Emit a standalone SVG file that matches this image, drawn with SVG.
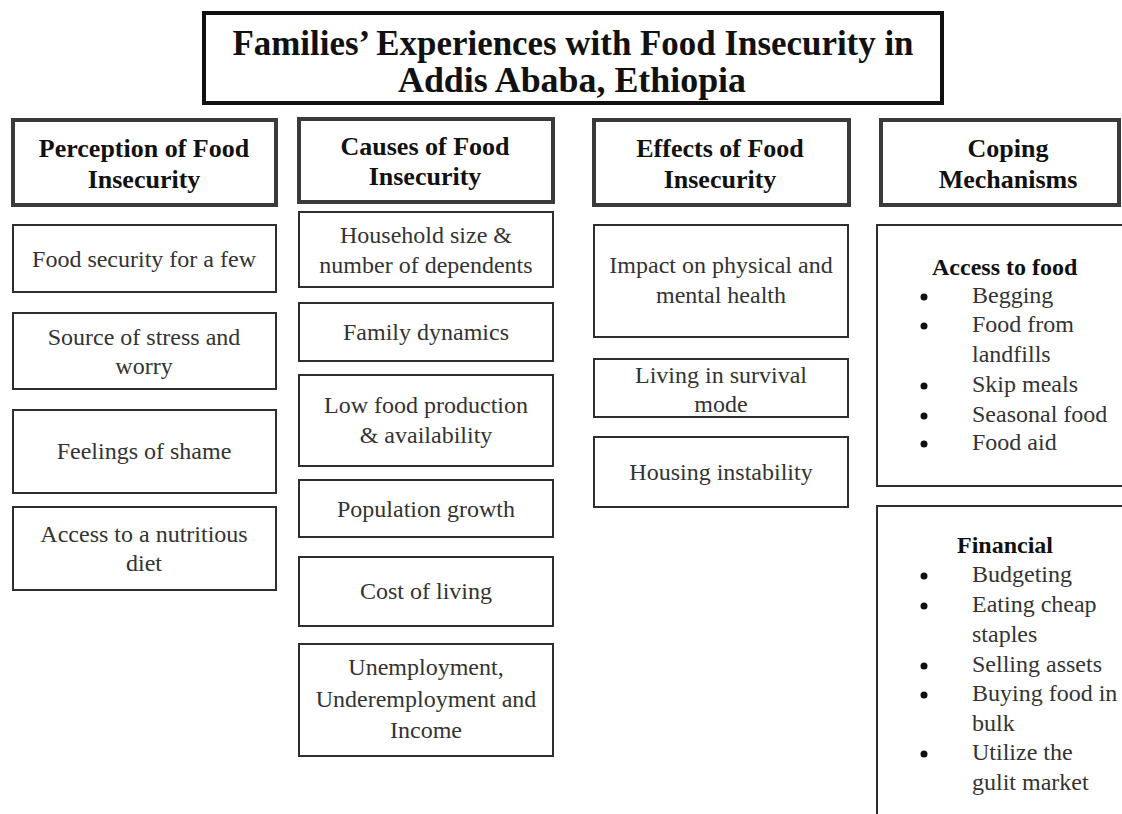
<svg xmlns="http://www.w3.org/2000/svg" width="1122" height="814" viewBox="0 0 1122 814">
<style>
.title{font-family:"Liberation Serif",serif;font-weight:bold;font-size:36px;fill:#111;text-anchor:middle}
.hd{fill:#fff;stroke:#3a3a3a;stroke-width:4}
.bx{fill:#fff;stroke:#2e2e2e;stroke-width:2}
.ht{font-family:"Liberation Serif",serif;font-weight:bold;font-size:26px;fill:#111;text-anchor:middle}
.t{font-family:"Liberation Serif",serif;font-size:24px;fill:#333;text-anchor:middle}
.st{font-family:"Liberation Serif",serif;font-weight:bold;font-size:24px;fill:#111}
.li{font-family:"Liberation Serif",serif;font-size:24px;fill:#333}
.bu{fill:#111}
</style>
<rect width="1122" height="814" fill="#fff"/>
<g id="title">
<rect x="204" y="13" width="738" height="90" fill="#fff" stroke="#111" stroke-width="4"/>
<text class="title" x="573" y="55" textLength="681" lengthAdjust="spacingAndGlyphs">Families’ Experiences with Food Insecurity in</text>
<text class="title" x="572" y="92" textLength="348" lengthAdjust="spacingAndGlyphs">Addis Ababa, Ethiopia</text>
</g>
<g id="h-perception"><rect class="hd" x="13" y="120" width="263" height="85"/>
<text class="ht" x="144" y="157">Perception of Food</text><text class="ht" x="144" y="188">Insecurity</text></g>
<g id="h-causes"><rect class="hd" x="299" y="119" width="254" height="83"/>
<text class="ht" x="425" y="155">Causes of Food</text><text class="ht" x="425" y="185">Insecurity</text></g>
<g id="h-effects"><rect class="hd" x="594" y="120" width="255" height="85"/>
<text class="ht" x="720" y="157">Effects of Food</text><text class="ht" x="720" y="188">Insecurity</text></g>
<g id="h-coping"><rect class="hd" x="881" y="120" width="238" height="85"/>
<text class="ht" x="1008" y="157">Coping</text><text class="ht" x="1008" y="188">Mechanisms</text></g>

<g id="p1"><rect class="bx" x="13" y="225" width="263" height="67"/><text class="t" x="144" y="267">Food security for a few</text></g>
<g id="p2"><rect class="bx" x="13" y="313" width="263" height="76"/><text class="t" x="144" y="345">Source of stress and</text><text class="t" x="144" y="374">worry</text></g>
<g id="p3"><rect class="bx" x="13" y="410" width="263" height="83"/><text class="t" x="144" y="459">Feelings of shame</text></g>
<g id="p4"><rect class="bx" x="13" y="507" width="263" height="83"/><text class="t" x="144" y="542">Access to a nutritious</text><text class="t" x="144" y="571">diet</text></g>

<g id="c1"><rect class="bx" x="299" y="212" width="254" height="75"/><text class="t" x="426" y="243">Household size &amp;</text><text class="t" x="426" y="273">number of dependents</text></g>
<g id="c2"><rect class="bx" x="299" y="303" width="254" height="58"/><text class="t" x="426" y="340">Family dynamics</text></g>
<g id="c3"><rect class="bx" x="299" y="375" width="254" height="91"/><text class="t" x="426" y="413">Low food production</text><text class="t" x="426" y="443">&amp; availability</text></g>
<g id="c4"><rect class="bx" x="299" y="480" width="254" height="57"/><text class="t" x="426" y="517">Population growth</text></g>
<g id="c5"><rect class="bx" x="299" y="557" width="254" height="69"/><text class="t" x="426" y="599">Cost of living</text></g>
<g id="c6"><rect class="bx" x="299" y="644" width="254" height="112"/><text class="t" x="426" y="675">Unemployment,</text><text class="t" x="426" y="707">Underemployment and</text><text class="t" x="426" y="738">Income</text></g>

<g id="e1"><rect class="bx" x="594" y="225" width="254" height="112"/><text class="t" x="721" y="273">Impact on physical and</text><text class="t" x="721" y="303">mental health</text></g>
<g id="e2"><rect class="bx" x="594" y="359" width="254" height="58"/><text class="t" x="721" y="383">Living in survival</text><text class="t" x="721" y="412">mode</text></g>
<g id="e3"><rect class="bx" x="594" y="437" width="254" height="70"/><text class="t" x="721" y="480">Housing instability</text></g>

<g id="k1"><rect class="bx" x="877" y="225" width="250" height="261"/>
<text class="st" x="932" y="275">Access to food</text>
<circle class="bu" cx="924" cy="297" r="3.5"/><text class="li" x="972" y="303">Begging</text>
<circle class="bu" cx="924" cy="326" r="3.5"/><text class="li" x="972" y="332">Food from</text>
<text class="li" x="972" y="362">landfills</text>
<circle class="bu" cx="924" cy="386" r="3.5"/><text class="li" x="972" y="392">Skip meals</text>
<circle class="bu" cx="924" cy="416" r="3.5"/><text class="li" x="972" y="422">Seasonal food</text>
<circle class="bu" cx="924" cy="444" r="3.5"/><text class="li" x="972" y="450">Food aid</text>
</g>
<g id="k2"><rect class="bx" x="877" y="506" width="250" height="320"/>
<text class="st" x="957" y="553">Financial</text>
<circle class="bu" cx="924" cy="576" r="3.5"/><text class="li" x="972" y="582">Budgeting</text>
<circle class="bu" cx="924" cy="606" r="3.5"/><text class="li" x="972" y="612">Eating cheap</text>
<text class="li" x="972" y="642">staples</text>
<circle class="bu" cx="924" cy="666" r="3.5"/><text class="li" x="972" y="672">Selling assets</text>
<circle class="bu" cx="924" cy="695" r="3.5"/><text class="li" x="972" y="701">Buying food in</text>
<text class="li" x="972" y="731">bulk</text>
<circle class="bu" cx="924" cy="754" r="3.5"/><text class="li" x="972" y="760">Utilize the</text>
<text class="li" x="972" y="790">gulit market</text>
</g>
<g id="connectors"></g>
</svg>
